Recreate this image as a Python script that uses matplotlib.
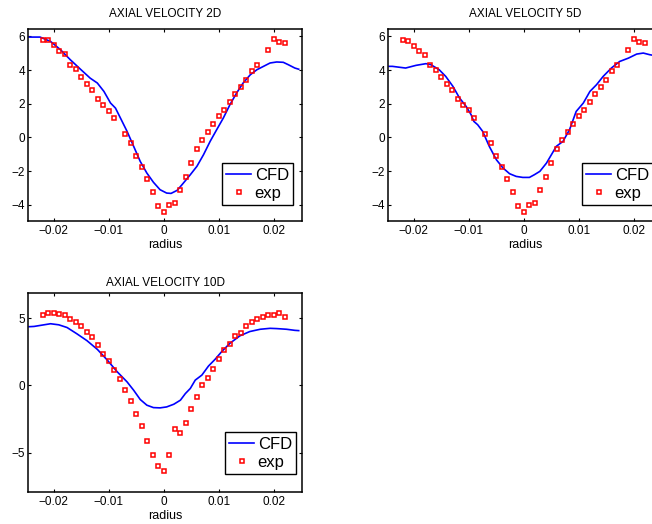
import numpy as np
import matplotlib
matplotlib.use('Agg')
import matplotlib.pyplot as plt

plt.rcParams['font.family'] = ['Liberation Sans', 'DejaVu Sans']

# experimental points (same radial stations for every section)
r_exp_2d = np.array([-0.022, -0.021, -0.020, -0.019, -0.018, -0.017, -0.016, -0.015, -0.014, -0.013,
                     -0.012, -0.011, -0.010, -0.009, -0.007, -0.006, -0.005, -0.004, -0.003, -0.002,
                     -0.001, 0.000, 0.001, 0.002, 0.003, 0.004, 0.005, 0.006, 0.007, 0.008,
                     0.009, 0.010, 0.011, 0.012, 0.013, 0.014, 0.015, 0.016, 0.017, 0.019,
                     0.020, 0.021, 0.022])
u_exp_2d = np.array([5.80, 5.76, 5.47, 5.15, 4.95, 4.32, 4.04, 3.58, 3.15, 2.83,
                     2.30, 1.92, 1.58, 1.13, 0.20, -0.34, -1.13, -1.79, -2.48, -3.27,
                     -4.10, -4.42, -4.04, -3.90, -3.11, -2.38, -1.55, -0.69, -0.16, 0.34,
                     0.79, 1.27, 1.60, 2.12, 2.59, 2.99, 3.43, 3.94, 4.32, 5.21,
                     5.82, 5.64, 5.58])

r_exp_5d = r_exp_2d
u_exp_5d = np.array([5.80, 5.74, 5.45, 5.13, 4.91, 4.32, 4.02, 3.60, 3.15, 2.83,
                     2.30, 1.94, 1.60, 1.15, 0.20, -0.34, -1.13, -1.78, -2.48, -3.27,
                     -4.10, -4.42, -4.04, -3.90, -3.11, -2.38, -1.55, -0.69, -0.16, 0.34,
                     0.77, 1.27, 1.60, 2.12, 2.57, 2.99, 3.43, 3.94, 4.32, 5.21,
                     5.82, 5.64, 5.58])

r_exp_10d = np.round(np.arange(-0.022, 0.0225, 0.001), 3)
u_exp_10d = np.array([5.22, 5.40, 5.36, 5.29, 5.21, 4.96, 4.71, 4.38, 3.99, 3.57,
                      3.04, 2.33, 1.79, 1.17, 0.45, -0.35, -1.12, -2.08, -3.00, -4.14,
                      -5.16, -5.96, -6.35, -5.14, -3.20, -3.55, -2.75, -1.71, -0.87, 0.02,
                      0.55, 1.22, 1.96, 2.64, 3.09, 3.68, 3.91, 4.43, 4.73, 4.95,
                      5.07, 5.22, 5.25, 5.35, 5.10])

# CFD profiles
r_cfd_2d = np.array([-0.0245, -0.0236, -0.0225, -0.0206, -0.0188, -0.0170, -0.0152, -0.0134, -0.0121,
                     -0.0109, -0.0097, -0.0088, -0.0079, -0.0067, -0.0055, -0.0043, -0.0031, -0.0019,
                     -0.0007, 0.0005, 0.0013, 0.0024, 0.0033, 0.0048, 0.0060, 0.0072, 0.0084, 0.0096,
                     0.0108, 0.0120, 0.0132, 0.0144, 0.0157, 0.0169, 0.0181, 0.0193, 0.0205, 0.0217,
                     0.0226, 0.0238, 0.0245])
u_cfd_2d = np.array([5.96, 5.96, 5.96, 5.70, 5.21, 4.61, 4.06, 3.52, 3.23,
                     2.73, 2.04, 1.74, 1.15, 0.36, -0.53, -1.43, -2.12, -2.67,
                     -3.11, -3.31, -3.33, -3.15, -2.81, -2.22, -1.72, -1.03, -0.24, 0.46,
                     1.15, 1.94, 2.63, 3.23, 3.72, 4.02, 4.22, 4.42, 4.48, 4.46,
                     4.32, 4.12, 4.05])

r_cfd_5d = np.array([-0.0245, -0.0239, -0.0215, -0.0196, -0.0178, -0.0169, -0.0154, -0.0142, -0.0129,
                     -0.0117, -0.0105, -0.0096, -0.0091, -0.0084, -0.0075, -0.0063, -0.0050, -0.0038,
                     -0.0026, -0.0014, -0.0002, 0.0010, 0.0019, 0.0029, 0.0041, 0.0050, 0.0059, 0.0071,
                     0.0083, 0.0095, 0.0108, 0.0120, 0.0132, 0.0144, 0.0159, 0.0174, 0.0190, 0.0205,
                     0.0217, 0.0229, 0.0245])
u_cfd_5d = np.array([4.22, 4.22, 4.12, 4.28, 4.38, 4.32, 4.02, 3.62, 3.03,
                     2.34, 1.84, 1.35, 0.95, 0.75, 0.36, -0.53, -1.33, -1.82,
                     -2.16, -2.32, -2.38, -2.38, -2.22, -2.02, -1.53, -1.03, -0.53, -0.24,
                     0.46, 1.54, 2.04, 2.73, 3.13, 3.62, 4.12, 4.51, 4.71, 4.95,
                     5.01, 4.91, 4.82])

r_cfd_10d = np.array([-0.0245, -0.0236, -0.0206, -0.0191, -0.0176, -0.0158, -0.0140, -0.0121, -0.0103,
                      -0.0085, -0.0067, -0.0055, -0.0043, -0.0031, -0.0019, -0.0007, 0.0005, 0.0018,
                      0.0030, 0.0039, 0.0048, 0.0057, 0.0069, 0.0081, 0.0093, 0.0105, 0.0120, 0.0138,
                      0.0156, 0.0175, 0.0193, 0.0205, 0.0223, 0.0238, 0.0245])
u_cfd_10d = np.array([4.36, 4.38, 4.58, 4.50, 4.30, 3.83, 3.33, 2.68, 1.89,
                      1.02, 0.27, -0.35, -1.04, -1.46, -1.64, -1.66, -1.59, -1.39,
                      -1.09, -0.60, -0.22, 0.40, 0.77, 1.44, 1.94, 2.51, 3.13, 3.68,
                      4.00, 4.17, 4.24, 4.22, 4.17, 4.09, 4.07])

titles = ['AXIAL VELOCITY 2D', 'AXIAL VELOCITY 5D', 'AXIAL VELOCITY 10D']
xticks = [-0.02, -0.01, 0, 0.01, 0.02]
xtick_labels = ['\u22120.02', '\u22120.01', '0', '0.01', '0.02']


def panel(ax, r_cfd, u_cfd, r_exp, u_exp, title, ylim, yticks, leg_anchor, title_pad):
    ax.plot(r_cfd, u_cfd, color='#0000ff', lw=1.2, label='CFD')
    ax.plot(r_exp, u_exp, 's', color='#ff0000', mfc='none', ms=2.8, mew=1.1, label='exp')
    ax.set_xlim(-0.0247, 0.0251)
    ax.set_ylim(*ylim)
    ax.set_xticks(xticks)
    ax.set_xticklabels(xtick_labels)
    ax.set_yticks(yticks)
    ax.set_yticklabels([('\u2212' if t < 0 else '') + str(abs(t)) for t in yticks])
    ax.tick_params(direction='in', top=True, right=True, length=2.5, width=0.8,
                   labelsize=8.5, pad=3)
    ax.tick_params(axis='y', pad=2)
    for s in ax.spines.values():
        s.set_linewidth(1.1)
    ax.set_title(title, fontsize=8.5, pad=title_pad)
    ax.set_xlabel('radius', fontsize=9, labelpad=1)
    leg = ax.legend(loc='lower right', bbox_to_anchor=leg_anchor, borderaxespad=0,
                    fontsize=12, numpoints=1, handlelength=1.5, handletextpad=0.2,
                    labelspacing=0.2, borderpad=0.25, fancybox=False, framealpha=1)
    leg.get_frame().set_edgecolor('black')
    leg.get_frame().set_linewidth(1.0)


fig = plt.figure(figsize=(6.52, 5.24), dpi=100)

ax1 = fig.add_axes([28 / 652, 1 - 221 / 524, 274 / 652, 192 / 524])
panel(ax1, r_cfd_2d, u_cfd_2d, r_exp_2d, u_exp_2d, titles[0],
      (-4.97, 6.44), [-4, -2, 0, 2, 4, 6], (0.967, 0.083), 8.5)

ax2 = fig.add_axes([388 / 652, 1 - 221 / 524, 274 / 652, 192 / 524])
panel(ax2, r_cfd_5d, u_cfd_5d, r_exp_5d, u_exp_5d, titles[1],
      (-4.97, 6.44), [-4, -2, 0, 2, 4, 6], (0.967, 0.083), 8.5)

ax3 = fig.add_axes([28 / 652, 1 - 492 / 524, 274 / 652, 199 / 524])
panel(ax3, r_cfd_10d, u_cfd_10d, r_exp_10d, u_exp_10d, titles[2],
      (-7.9, 6.86), [-5, 0, 5], (0.978, 0.09), 5)

fig.savefig('out.png', dpi=100)
